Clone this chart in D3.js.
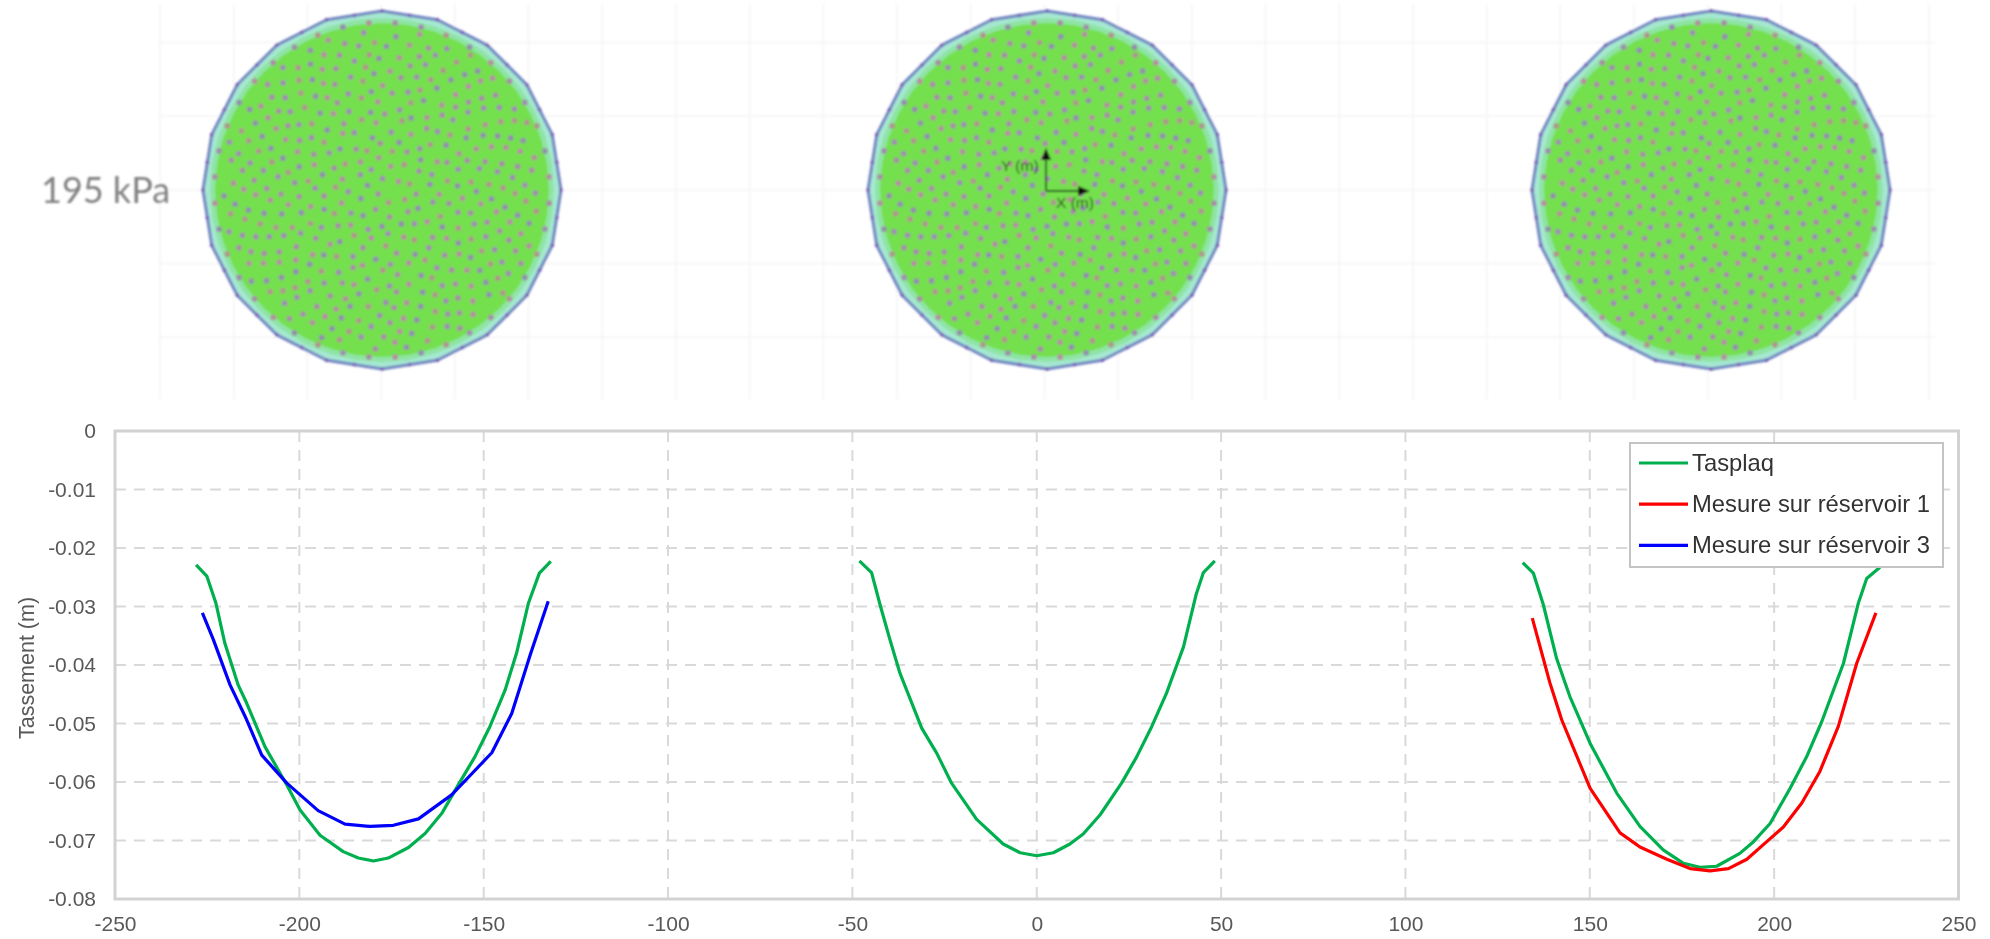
<!DOCTYPE html>
<html><head><meta charset="utf-8">
<script src="https://cdn.jsdelivr.net/npm/d3@7/dist/d3.min.js"></script>
<style>
html,body{margin:0;padding:0;background:#fff;overflow:hidden}
svg{display:block}
text{font-family:"Liberation Sans",Arial,sans-serif}
</style></head><body><svg id="c" width="1990" height="939"></svg>
<script>
// --- chart data ---
const xTicks = [-250,-200,-150,-100,-50,0,50,100,150,200,250];
const yTicks = [0,-0.01,-0.02,-0.03,-0.04,-0.05,-0.06,-0.07,-0.08];
const xTickLabels = ["-250","-200","-150","-100","-50","0","50","100","150","200","250"];
const yTickLabels = ["0","-0.01","-0.02","-0.03","-0.04","-0.05","-0.06","-0.07","-0.08"];
const legendLabels = ["Tasplaq","Mesure sur réservoir 1","Mesure sur réservoir 3"];
const legendKeys = ["tasplaq","res1","res3"];
const pressureLabel = "195 kPa";
const yAxisTitle = "Tassement (m)";

const tasplaqLeft = [[-228,-.0229],[-225.1,-.0248],[-222.6,-.0295],[-220.2,-.0363],[-216.6,-.0434],[-214.3,-.0465],[-209.3,-.054],[-203.4,-.0605],[-199.8,-.0648],[-194.4,-.0691],[-188.1,-.0719],[-184,-.073],[-179.9,-.0735],[-175.9,-.073],[-170.4,-.0712],[-165.9,-.0688],[-161.4,-.0654],[-156.9,-.0605],[-152.4,-.0557],[-148.3,-.0505],[-144.2,-.0443],[-141.1,-.038],[-137.9,-.0295],[-134.9,-.0243],[-131.8,-.0223]];
const tasplaqCentre = [[-48.1,-.0222],[-44.8,-.0242],[-42.5,-.0297],[-39.8,-.0357],[-37.1,-.0414],[-31.2,-.0508],[-27.1,-.0551],[-23.1,-.0602],[-16.3,-.0664],[-9.1,-.0706],[-4.5,-.0721],[0,-.0726],[4.5,-.0721],[9,-.0706],[12.6,-.0689],[17.2,-.0656],[23,-.0602],[27.1,-.0557],[31.2,-.0505],[35.2,-.0448],[39.8,-.0369],[43.2,-.028],[45.2,-.0242],[48.3,-.0222]];
const tasplaqRight = [[131.8,-.0225],[134.7,-.0243],[137.4,-.0297],[141,-.0389],[144.6,-.0454],[150.1,-.0534],[157.3,-.0619],[163.6,-.0676],[169.9,-.0716],[175.4,-.0739],[179.9,-.0746],[184.4,-.0744],[190.7,-.0722],[194.4,-.0702],[198.9,-.0671],[204.3,-.0611],[208.8,-.0557],[212.9,-.0497],[218.8,-.0397],[222.8,-.0295],[225.1,-.0252],[228.7,-.0233]];
const mesureReservoir1 = [[134.4,-.032],[139.2,-.0431],[142.4,-.0494],[150.1,-.0611],[158.2,-.0687],[163.6,-.0711],[170.9,-.0732],[177.2,-.0748],[182.6,-.0752],[187.6,-.0748],[192.6,-.0732],[198,-.0702],[202.5,-.0677],[207.5,-.0636],[212.4,-.0582],[217.4,-.0505],[222.4,-.0397],[227.6,-.0311]];
const mesureReservoir3 = [[-226.3,-.0311],[-223.3,-.0357],[-218.8,-.0434],[-214.7,-.0488],[-210.2,-.0554],[-203.4,-.0602],[-194.9,-.0649],[-187.6,-.0672],[-180.8,-.0676],[-174.5,-.0674],[-167.7,-.0663],[-158.7,-.0622],[-147.8,-.055],[-142.4,-.0483],[-137.4,-.0383],[-132.5,-.0291]];

const seriesColour = {tasplaq:"#00b050",res1:"#ff0000",res3:"#0000ff"};
const series = [
  {key:"tasplaq",values:tasplaqLeft},{key:"tasplaq",values:tasplaqCentre},{key:"tasplaq",values:tasplaqRight},
  {key:"res1",values:mesureReservoir1},{key:"res3",values:mesureReservoir3}
];

// --- layout ---
const svg = d3.select("#c");
const defs = svg.append("defs");
[["soft",1],["softer",0.45]].forEach(([id,s])=>{
  defs.append("filter").attr("id",id).attr("x","-5%").attr("y","-5%").attr("width","110%").attr("height","110%")
    .append("feGaussianBlur").attr("stdDeviation",s);
});
const L=115,R=1958.5,T=431,B=899;
const x = d3.scaleLinear().domain([-250,250]).range([L,R]);
const y = d3.scaleLinear().domain([0,-0.08]).range([T,B]);

// --- top panel: background grid ---
const topPanel = svg.append("g").attr("filter","url(#soft)");
const gridStep=73.7;
d3.range(160,1940,gridStep).forEach(v=>topPanel.append("line").attr("x1",v).attr("x2",v).attr("y1",4).attr("y2",400).attr("stroke","#f4f4f4").attr("stroke-width",1.5));
d3.range(42.5,340,gridStep).forEach(v=>topPanel.append("line").attr("x1",158).attr("x2",1935).attr("y1",v).attr("y2",v).attr("stroke","#f4f4f4").attr("stroke-width",1.5));

// --- top panel: three plate meshes (node layout is an even texture, not data) ---
const plateCentres=[382,1047,1711], plateY=190, plateR=179;
const ring=(r,n,off=0)=>d3.range(n).map(i=>{const a=(i+off)/n*2*Math.PI;return [r*Math.sin(a),-r*Math.cos(a)];});
const edgeNodes=[...ring(plateR,20),...ring(plateR*Math.cos(Math.PI/20),20,.5)];
const interiorNodes=d3.range(1,410).map(i=>{
  const r=7.9*Math.sqrt(i),a=i*2.39996;
  return [r*Math.cos(a)+2*Math.sin(i*1.7),r*Math.sin(a)+2*Math.cos(i*2.3)];
});
const meshNodes=[...ring(167.5,40,.5),...interiorNodes];
const nodeColours=["#a88ca6","#a08cb0","#b0948f","#948cae","#b48ea0"];
plateCentres.forEach(cx=>{
  const g=topPanel.append("g").attr("transform",`translate(${cx},${plateY})`);
  g.append("polygon").attr("points",ring(plateR,20).join(" ")).attr("fill","#a6e8d2").attr("stroke","#7083c0").attr("stroke-width",3).attr("stroke-linejoin","round");
  g.append("polygon").attr("points",ring(172,40).join(" ")).attr("fill","#8fe4a4");
  g.append("polygon").attr("points",ring(167,40).join(" ")).attr("fill","#74e04e");
  g.selectAll("circle.e").data(edgeNodes).join("circle").attr("class","e")
    .attr("cx",d=>d[0]).attr("cy",d=>d[1]).attr("r",2).attr("fill","#7c62b8");
  g.selectAll("circle.n").data(meshNodes).join("circle").attr("class","n")
    .attr("cx",d=>d[0]).attr("cy",d=>d[1]).attr("r",2.9)
    .attr("fill",(d,i)=>nodeColours[i%5]);
});
topPanel.append("text").text(pressureLabel).attr("x",41).attr("y",203).attr("font-size",36).attr("fill","#808080").style("font-family","Lato");

// --- small axes in the middle plate ---
const mark=topPanel.append("g");
[["M1046 191V152","M1046 148l-5 12h10z"],["M1046 191H1082","M1090 191l-12 -5v10z"]].forEach(p=>{
  mark.append("path").attr("d",p[0]).attr("stroke","#1d4d1d").attr("stroke-width",1.8).attr("fill","none");
  mark.append("path").attr("d",p[1]).attr("fill","#111");
});
mark.append("text").text("Y (m)").attr("x",1001).attr("y",171).attr("font-size",15.5).attr("fill","#2a3f2a");
mark.append("text").text("X (m)").attr("x",1056).attr("y",208).attr("font-size",15.5).attr("fill","#2a3f2a");

// --- bottom panel ---
const plot=svg.append("g").attr("filter","url(#softer)");
plot.append("g").selectAll("line").data(yTicks.slice(1,-1)).join("line")
  .attr("x1",L).attr("x2",R).attr("y1",d=>y(d)).attr("y2",d=>y(d))
  .attr("stroke","#d9d9d9").attr("stroke-width",2).attr("stroke-dasharray","11,8");
plot.append("g").selectAll("line").data(xTicks.slice(1,-1)).join("line")
  .attr("x1",d=>x(d)).attr("x2",d=>x(d)).attr("y1",T).attr("y2",B)
  .attr("stroke","#d9d9d9").attr("stroke-width",2).attr("stroke-dasharray","11,8");
plot.append("rect").attr("x",L).attr("y",T).attr("width",R-L).attr("height",B-T).attr("fill","none").attr("stroke","#d2d2d2").attr("stroke-width",3);

const ax=d3.axisBottom(x).tickValues(xTicks).tickSize(0).tickPadding(0).tickFormat((d,i)=>xTickLabels[i]);
const axX=plot.append("g").attr("transform",`translate(0,${B+17})`).call(ax);
const ay=d3.axisLeft(y).tickValues(yTicks).tickSize(0).tickPadding(0).tickFormat((d,i)=>yTickLabels[i]);
const axY=plot.append("g").attr("transform",`translate(${L-19},0)`).call(ay);
[axX,axY].forEach(a=>{a.select(".domain").remove();a.selectAll("text").attr("fill","#595959").attr("font-size",21).style("font-family",'"Liberation Sans"');});

plot.append("text").text(yAxisTitle).attr("transform","translate(34,668) rotate(-90)").attr("text-anchor","middle").attr("font-size",21.5).attr("fill","#595959");

const line=d3.line().x(d=>x(d[0])).y(d=>y(d[1]));
plot.append("g").selectAll("path").data(series).join("path")
  .attr("d",d=>line(d.values)).attr("fill","none").attr("stroke",d=>seriesColour[d.key]).attr("stroke-width",3.2).attr("stroke-linejoin","round");

// --- legend ---
const leg=plot.append("g");
leg.append("rect").attr("x",1630).attr("y",443).attr("width",313).attr("height",124).attr("fill","#fff").attr("stroke","#c4c4c4").attr("stroke-width",2);
legendLabels.forEach((t,i)=>{
  const yy=463+i*41.2;
  leg.append("line").attr("x1",1639).attr("x2",1688).attr("y1",yy).attr("y2",yy).attr("stroke",seriesColour[legendKeys[i]]).attr("stroke-width",3.2);
  leg.append("text").text(t).attr("x",1692).attr("y",yy+8).attr("font-size",23.8).attr("fill","#333333");
});
</script></body></html>
